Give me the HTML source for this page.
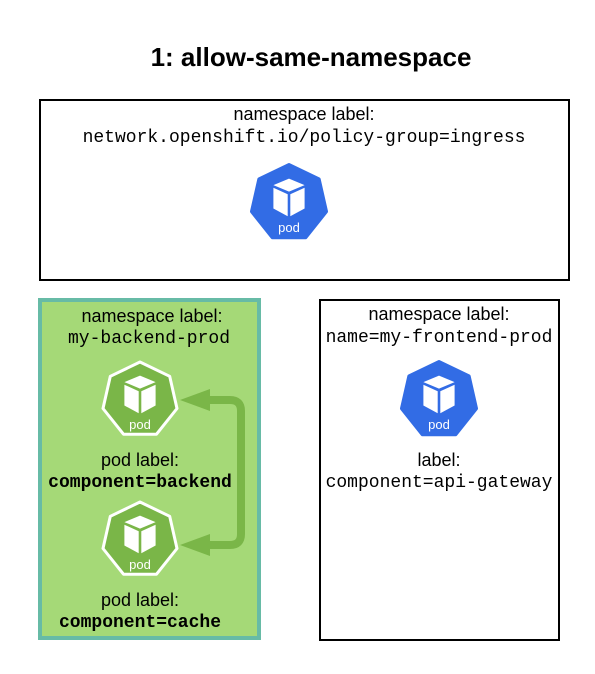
<!DOCTYPE html>
<html><head><meta charset="utf-8"><style>
html,body{margin:0;padding:0;background:#fff;}
svg{display:block;}
.s{font-family:"Liberation Sans",sans-serif;font-size:18px;fill:#000;}
.m{font-family:"Liberation Mono",monospace;font-size:18px;fill:#000;}
.mb{font-family:"Liberation Mono",monospace;font-size:18px;font-weight:bold;fill:#000;}
.p{font-family:"Liberation Sans",sans-serif;font-size:13px;fill:#fff;}
</style></head><body>
<svg width="595" height="674" viewBox="0 0 595 674" xmlns="http://www.w3.org/2000/svg">
<defs>
<g id="cube" fill="#fff" transform="translate(0,-1) scale(1.3)">
<polygon points="0,-18 12,-13 0,-8 -12,-13"/>
<polygon points="-12,-11 -1,-6 -1,11 -12,5"/>
<polygon points="1,-6 12,-11 12,5 1,11"/>
</g>
</defs>
<text x="311" y="66" text-anchor="middle" font-family="Liberation Sans, sans-serif" font-size="26" font-weight="bold">1: allow-same-namespace</text>

<rect x="40" y="100" width="529" height="180" fill="#fff" stroke="#000" stroke-width="2"/>
<text x="304" y="120" class="s" text-anchor="middle">namespace label:</text>
<text x="304" y="142" class="m" text-anchor="middle">network.openshift.io/policy-group=ingress</text>
<g transform="translate(289,203)">
<polygon points="0,-38 29.7,-23.7 37,8.5 16.5,34.2 -16.5,34.2 -37,8.5 -29.7,-23.7" fill="#326ce5" stroke="#326ce5" stroke-width="4" stroke-linejoin="round"/>
<use href="#cube"/>
<text y="29" class="p" text-anchor="middle">pod</text>
</g>

<rect x="40" y="300" width="219" height="338" fill="#a5d977" stroke="#67bba6" stroke-width="4"/>
<text x="152" y="322" class="s" text-anchor="middle">namespace label:</text>
<text x="149" y="343" class="m" text-anchor="middle">my-backend-prod</text>
<path d="M208,400 H230 Q241,400 241,411 V534 Q241,545 230,545 H208" fill="none" stroke="#7ab648" stroke-width="8"/>
<polygon points="180,400 210,389 210,411" fill="#7ab648"/>
<polygon points="180,545 210,534 210,556" fill="#7ab648"/>
<g transform="translate(140,400)">
<polygon points="0,-38 29.7,-23.7 37,8.5 16.5,34.2 -16.5,34.2 -37,8.5 -29.7,-23.7" fill="#7ab648" stroke="#fff" stroke-width="3" stroke-linejoin="round"/>
<use href="#cube"/>
<text y="29" class="p" text-anchor="middle">pod</text>
</g>
<text x="140" y="466" class="s" text-anchor="middle">pod label:</text>
<text x="140" y="487" class="mb" text-anchor="middle">component=backend</text>
<g transform="translate(140,540)">
<polygon points="0,-38 29.7,-23.7 37,8.5 16.5,34.2 -16.5,34.2 -37,8.5 -29.7,-23.7" fill="#7ab648" stroke="#fff" stroke-width="3" stroke-linejoin="round"/>
<use href="#cube"/>
<text y="29" class="p" text-anchor="middle">pod</text>
</g>
<text x="140" y="606" class="s" text-anchor="middle">pod label:</text>
<text x="140" y="627" class="mb" text-anchor="middle">component=cache</text>

<rect x="320" y="300" width="239" height="340" fill="#fff" stroke="#000" stroke-width="2"/>
<text x="439" y="320" class="s" text-anchor="middle">namespace label:</text>
<text x="439" y="342" class="m" text-anchor="middle">name=my-frontend-prod</text>
<g transform="translate(439,400)">
<polygon points="0,-38 29.7,-23.7 37,8.5 16.5,34.2 -16.5,34.2 -37,8.5 -29.7,-23.7" fill="#326ce5" stroke="#326ce5" stroke-width="4" stroke-linejoin="round"/>
<use href="#cube"/>
<text y="29" class="p" text-anchor="middle">pod</text>
</g>
<text x="439" y="466" class="s" text-anchor="middle">label:</text>
<text x="439" y="487" class="m" text-anchor="middle">component=api-gateway</text>
</svg>
</body></html>
